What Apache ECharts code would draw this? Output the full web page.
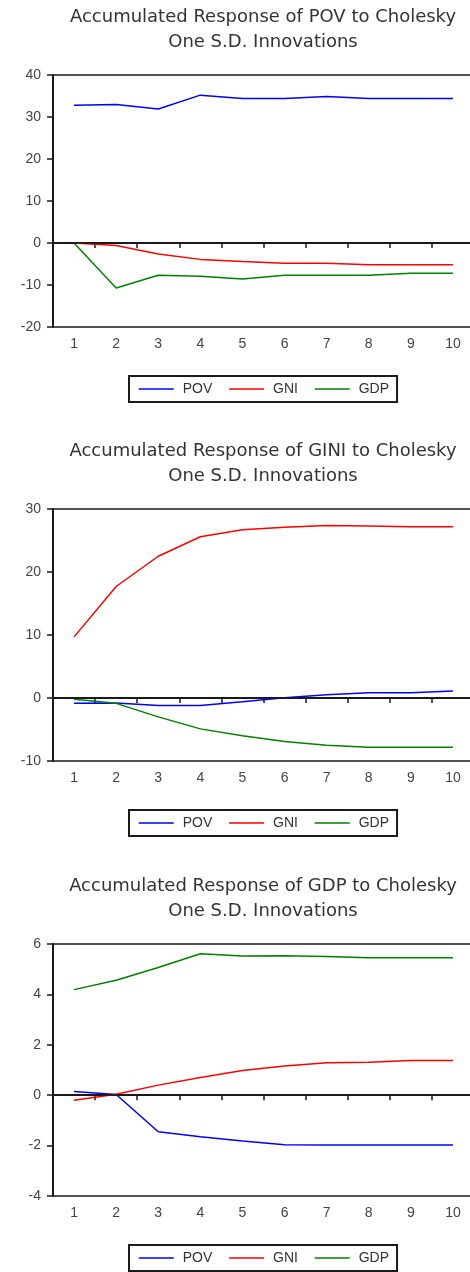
<!DOCTYPE html>
<html>
<head>
<meta charset="utf-8">
<script src="https://cdn.jsdelivr.net/npm/echarts@6/dist/echarts.min.js"></script>
<style>
  html, body { margin: 0; padding: 0; background: #fff; }
  #main { width: 470px; height: 1272px; }
</style>
</head>
<body>
<div id="main"></div>
<script>
// periods
const periods = ['1', '2', '3', '4', '5', '6', '7', '8', '9', '10'];
const seriesNames = ['POV', 'GNI', 'GDP'];

// Accumulated Response of POV
const povToPOV = [32.8, 33.0, 31.9, 35.2, 34.4, 34.4, 34.9, 34.4, 34.4, 34.4];
const povToGNI = [0, -0.6, -2.6, -3.9, -4.4, -4.8, -4.8, -5.2, -5.2, -5.2];
const povToGDP = [0, -10.7, -7.7, -7.9, -8.6, -7.7, -7.7, -7.7, -7.2, -7.2];

// Accumulated Response of GINI
const giniToPOV = [-0.85, -0.8, -1.2, -1.2, -0.6, 0.05, 0.5, 0.85, 0.85, 1.1];
const giniToGNI = [9.7, 17.7, 22.5, 25.6, 26.7, 27.1, 27.4, 27.3, 27.2, 27.2];
const giniToGDP = [-0.2, -0.85, -3.0, -4.9, -6.0, -6.9, -7.5, -7.8, -7.8, -7.8];

// Accumulated Response of GDP
const gdpToPOV = [0.15, 0.03, -1.45, -1.65, -1.82, -1.97, -1.98, -1.98, -1.98, -1.98];
const gdpToGNI = [-0.2, 0.04, 0.4, 0.7, 0.98, 1.16, 1.29, 1.31, 1.38, 1.38];
const gdpToGDP = [4.19, 4.56, 5.07, 5.61, 5.52, 5.53, 5.5, 5.45, 5.45, 5.45];

const titles = [
  'Accumulated Response of POV to Cholesky\nOne S.D. Innovations',
  'Accumulated Response of GINI to Cholesky\nOne S.D. Innovations',
  'Accumulated Response of GDP to Cholesky\nOne S.D. Innovations'
];
const yMin = [-20, -10, -4];
const yMax = [40, 30, 6];
const yStep = [10, 10, 2];
const panelData = [
  [povToPOV, povToGNI, povToGDP],
  [giniToPOV, giniToGNI, giniToGDP],
  [gdpToPOV, gdpToGNI, gdpToGDP]
];

const colors = ['#0000ff', '#ff0000', '#008000'];
const gridTop = [75, 509, 944];
const gridH = 252;
const axisColor = '#1a1a1a';
const labelColor = '#444';

const chart = echarts.init(document.getElementById('main'));

const title = [], grid = [], xAxis = [], yAxis = [], legend = [], series = [];

for (let p = 0; p < 3; p++) {
  const top = gridTop[p];
  title.push({
    text: titles[p],
    left: 263,
    top: top - 70,
    textAlign: 'center',
    padding: 0,
    textStyle: {
      fontFamily: 'DejaVu Sans',
      fontSize: 18,
      fontWeight: 'normal',
      color: '#333',
      lineHeight: 25
    }
  });
  // plot frame runs off the right edge, as in the original
  grid.push({
    left: 53,
    top: top,
    width: 421,
    height: gridH,
    outerBoundsMode: 'none',
    containLabel: false,
    show: true,
    borderColor: axisColor,
    borderWidth: 1.5
  });
  xAxis.push({
    type: 'category',
    gridIndex: p,
    data: periods,
    boundaryGap: true,
    axisLine: { lineStyle: { color: axisColor, width: 2 } },
    axisTick: { show: true, length: 5, lineStyle: { color: axisColor, width: 1.5 } },
    axisLabel: { margin: 10, color: labelColor, fontSize: 14, fontFamily: 'Liberation Sans' },
    splitLine: { show: false }
  });
  yAxis.push({
    type: 'value',
    gridIndex: p,
    min: yMin[p],
    max: yMax[p],
    interval: yStep[p],
    axisLine: { show: true, lineStyle: { color: axisColor, width: 2 } },
    axisTick: { show: true, length: 6, lineStyle: { color: axisColor, width: 1.5 } },
    axisLabel: { margin: 12, color: labelColor, fontSize: 14, fontFamily: 'Liberation Sans' },
    splitLine: { show: false }
  });
  legend.push({
    data: seriesNames,
    left: 129,
    top: top + gridH + 49,
    orient: 'horizontal',
    padding: [6, 8, 6, 9],
    itemGap: 16,
    itemWidth: 35,
    itemHeight: 14,
    itemStyle: { opacity: 0 },
    lineStyle: { width: 1.5 },
    borderColor: axisColor,
    borderWidth: 2,
    borderRadius: 0,
    textStyle: { fontSize: 14, color: '#333', fontFamily: 'Liberation Sans', padding: [0, 0, 0, 4] }
  });
  seriesNames.forEach((name, i) => {
    const s = {
      name: name,
      type: 'line',
      xAxisIndex: p,
      yAxisIndex: p,
      data: panelData[p][i],
      symbol: 'none',
      color: colors[i],
      lineStyle: { color: colors[i], width: 1.5 },
      z: 3
    };
    if (i === 0) {
      // horizontal zero line
      s.markLine = {
        silent: true,
        symbol: 'none',
        label: { show: false },
        lineStyle: { color: axisColor, width: 1.5, type: 'solid' },
        data: [{ yAxis: 0 }]
      };
    }
    series.push(s);
  });
}

const option = {
  animation: false,
  backgroundColor: '#fff',
  title: title,
  grid: grid,
  xAxis: xAxis,
  yAxis: yAxis,
  legend: legend,
  series: series
};
option && chart.setOption(option);
</script>
</body>
</html>
